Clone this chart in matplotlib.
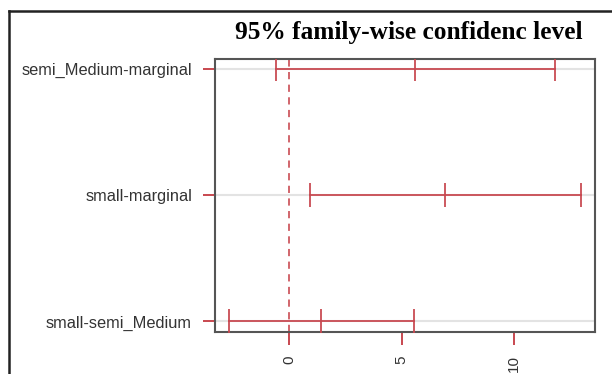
import matplotlib
matplotlib.use("Agg")
import matplotlib.pyplot as plt
from matplotlib.lines import Line2D

comparisons = ["small-semi_Medium", "small-marginal", "semi_Medium-marginal"]
diff = [1.42, 6.93, 5.58]
lwr = [-2.69, 0.91, -0.61]
upr = [5.55, 12.99, 11.83]
xticks = [0, 5, 10]

red = "#c8474f"

fig = plt.figure(figsize=(6.12, 3.74), dpi=100)
W, H = 612, 374
ax = fig.add_axes([215 / W, 1 - 331.5 / H, (595 - 215) / W, (331.5 - 59) / H])

ys = list(range(1, len(comparisons) + 1))
for y in ys:
    ax.axhline(y, color="#e3e3e3", lw=1.5, zorder=1)

ax.axvline(0, color=red, lw=1.3, ls=(0, (4, 3)), zorder=2, alpha=0.9)

for y, d, lo, hi in zip(ys, diff, lwr, upr):
    ax.plot([lo, hi], [y, y], color=red, lw=1.4, zorder=3, alpha=0.9)
    ax.plot([lo, d, hi], [y, y, y], ls="none", marker="|", ms=17, mew=1.4,
            color=red, zorder=3, alpha=0.9)

span = max(upr) - min(lwr)
ax.set_xlim(min(lwr) - 0.04 * span, max(upr) + 0.04 * span)
ax.set_ylim(1 - 0.08, len(comparisons) + 0.08)

ax.set_yticks(ys)
ax.set_yticklabels(comparisons, fontsize=11.8, color="#333333",
                   family="Liberation Sans")
ax.set_xticks(xticks)
ax.set_xticklabels([str(t) for t in xticks], rotation=90, fontsize=11,
                   color="#333333", family="Liberation Sans")
ax.tick_params(axis="both", color=red, length=9, width=1.4)
ax.tick_params(axis="y", pad=7.5)
ax.tick_params(axis="x", pad=8)

for s in ax.spines.values():
    s.set_color("#555555")
    s.set_linewidth(1.5)

fig.text(409 / W, 1 - 33 / H, "95% family-wise confidenc level",
         ha="center", va="center", fontsize=18.3, fontweight="bold",
         family="Liberation Serif", color="black")

fig.add_artist(Line2D([8.5 / W, 8.5 / W], [0, 1 - 11 / H],
                      transform=fig.transFigure, color="#222222", lw=1.8))
fig.add_artist(Line2D([8.5 / W, 1], [1 - 11 / H, 1 - 11 / H],
                      transform=fig.transFigure, color="#222222", lw=1.8))

fig.savefig("out.png", dpi=100)
